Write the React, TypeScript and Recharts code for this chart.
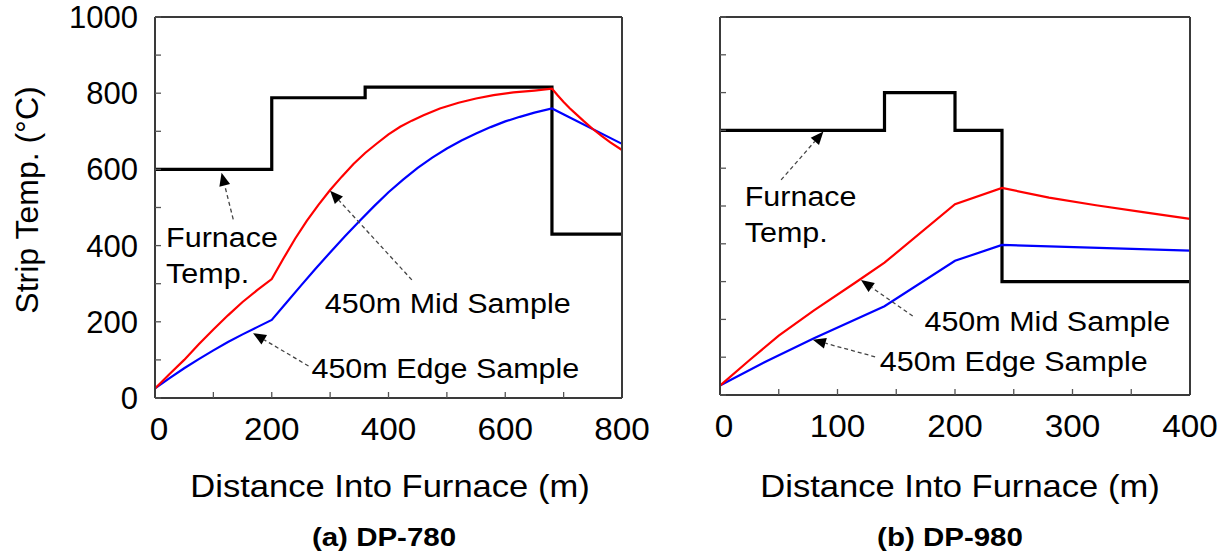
import React from 'react';
import { LineChart, Line, XAxis, YAxis, ReferenceLine, ReferenceDot } from 'recharts';

const FONT = 'Arial, "Liberation Sans", Helvetica, sans-serif';

// ---- (a) DP-780 ----
const furnaceA_x = [0, 200, 200, 360, 360, 680, 680, 800];
const furnaceA_t = [600, 600, 788, 788, 816, 816, 430, 430];
const midA_x = [0, 25, 50, 75, 100, 125, 150, 175, 200, 220, 240, 260, 280, 300, 320, 340, 360, 380, 400, 420, 440, 460, 488, 520, 550, 580, 614, 650, 680, 690, 700, 710, 720, 735, 750, 765, 780, 800];
const midA_t = [25, 63, 100, 141, 180, 217, 252, 283, 312, 366, 418, 465, 507, 546, 581, 614, 643, 668, 692, 712, 728, 742, 760, 775, 786, 795, 802, 807, 812, 794, 777, 761, 747, 726, 706, 688, 671, 651];
const edgeA_x = [0, 25, 50, 75, 100, 125, 150, 175, 200, 225, 250, 275, 300, 325, 350, 375, 400, 425, 450, 475, 500, 525, 550, 575, 600, 625, 650, 680, 800];
const edgeA_t = [25, 52, 78, 102, 125, 147, 167, 186, 205, 250, 295, 339, 382, 424, 464, 503, 540, 573, 604, 631, 655, 676, 694, 711, 726, 738, 749, 760, 667];
const ticksA_x = [0, 100, 200, 300, 400, 500, 600, 700, 800];

// ---- (b) DP-980 ----
const furnaceB_x = [0, 140, 140, 200, 200, 240, 240, 400];
const furnaceB_t = [700, 700, 800, 800, 700, 700, 300, 300];
const midB_x = [0, 25, 50, 80, 115, 140, 200, 240, 280, 320, 360, 400];
const midB_t = [25, 92, 157, 224, 297, 350, 505, 548, 522, 502, 484, 466];
const edgeB_x = [0, 40, 80, 140, 200, 240, 400];
const edgeB_t = [25, 90, 150, 235, 355, 397, 382];
const ticksB_x = [0, 50, 100, 150, 200, 250, 300, 350, 400];

const ticks_y = [0, 100, 200, 300, 400, 500, 600, 700, 800, 900, 1000];

// annotations (data coords: distance, temp)
const notes = [['Furnace', 'Temp.'], ['450m Mid Sample'], ['450m Edge Sample']];
const notesA_x = [19, 291, 268];
const notesA_t = [396, 222, 52];
const arrowsA_from = [[134, 469], [440, 310], [263, 84]];
const arrowsA_to = [[114, 591], [300, 544], [168, 170]];

const notesB_x = [21, 174, 136];
const notesB_t = [500, 168, 63];
const arrowsB_from = [[52, 569], [164, 209], [132, 101]];
const arrowsB_to = [[88, 697], [120, 304], [79, 146]];

const pts = (xs: number[], ts: number[]) => xs.map((x, i) => ({ x, t: ts[i] }));

const SText = ({ x, y, sx = 1, anchor = 'start', size, bold, children, lineGap = 36 }: any) => {
  const lines: string[] = Array.isArray(children) ? children : [children];
  return (
    <text
      transform={`translate(${x},${y}) scale(${sx},1)`}
      textAnchor={anchor}
      fontSize={size}
      fontFamily={FONT}
      fontWeight={bold ? 700 : 400}
      fill="#000"
    >
      {lines.map((l, i) => (
        <tspan key={i} x={0} dy={i === 0 ? 0 : lineGap}>
          {l}
        </tspan>
      ))}
    </text>
  );
};

const XTick = (props: any) => {
  const { x, y, payload, step } = props;
  if (payload.value % step !== 0) return null;
  return (
    <SText x={payload.value === 0 ? x + 4 : x} y={y + 48} anchor="middle" size={32} sx={1.04}>
      {String(payload.value)}
    </SText>
  );
};

const YTick = (props: any) => {
  const { x, y, payload } = props;
  if (payload.value % 200 !== 0) return null;
  return (
    <SText x={x - 23} y={y + 11} anchor="end" size={31}>
      {String(payload.value)}
    </SText>
  );
};

const NoTick = () => null;

const ArrowShape = (props: any) => {
  const { x1, y1, x2, y2 } = props;
  const dx = x2 - x1;
  const dy = y2 - y1;
  const len = Math.hypot(dx, dy) || 1;
  const ux = dx / len;
  const uy = dy / len;
  const bx = x2 - ux * 13;
  const by = y2 - uy * 13;
  const nx = -uy;
  const ny = ux;
  return (
    <g>
      <line x1={x1} y1={y1} x2={bx} y2={by} stroke="#444" strokeWidth={1.3} strokeDasharray="4 3" />
      <polygon
        points={`${x2},${y2} ${bx + nx * 5.5},${by + ny * 5.5} ${bx - nx * 5.5},${by - ny * 5.5}`}
        fill="#000"
      />
    </g>
  );
};

const AXIS = { stroke: '#3a3a3a', strokeWidth: 2 };
const TLINE = { stroke: '#555', strokeWidth: 1.3 };

const Panel = (p: any) => (
  <LineChart width={p.width} height={554} margin={{ top: 16, right: p.marginRight, left: 0, bottom: 0 }}>
    <XAxis
      xAxisId="b"
      dataKey="x"
      type="number"
      domain={[0, p.xMax]}
      ticks={p.xTicks}
      interval={0}
      height={p.xAxisHeight}
      tickSize={-6}
      tickMargin={0}
      tick={<XTick step={p.xStep} />}
      axisLine={AXIS}
      tickLine={TLINE}
    />
    <XAxis
      xAxisId="t"
      orientation="top"
      dataKey="x"
      type="number"
      domain={[0, p.xMax]}
      ticks={p.xTicks}
      interval={0}
      height={1}
      tickSize={-6}
      tickMargin={0}
      tick={<NoTick />}
      axisLine={AXIS}
      tickLine={TLINE}
    />
    <YAxis
      yAxisId="l"
      type="number"
      domain={[0, 1000]}
      ticks={ticks_y}
      interval={0}
      width={p.yAxisWidth}
      tickSize={-6}
      tickMargin={0}
      tick={p.yLabels ? <YTick /> : <NoTick />}
      axisLine={AXIS}
      tickLine={TLINE}
    />
    <YAxis
      yAxisId="r"
      orientation="right"
      type="number"
      domain={[0, 1000]}
      ticks={ticks_y}
      interval={0}
      width={1}
      tickSize={-6}
      tickMargin={0}
      tick={<NoTick />}
      axisLine={AXIS}
      tickLine={TLINE}
    />
    <Line xAxisId="b" yAxisId="l" data={p.furnace} dataKey="t" type="linear" stroke="#000" strokeWidth={3.2} dot={false} activeDot={false} isAnimationActive={false} />
    <Line xAxisId="b" yAxisId="l" data={p.edge} dataKey="t" type="linear" stroke="#0000ff" strokeWidth={2.2} dot={false} activeDot={false} isAnimationActive={false} />
    <Line xAxisId="b" yAxisId="l" data={p.mid} dataKey="t" type="linear" stroke="#ff0000" strokeWidth={2.2} dot={false} activeDot={false} isAnimationActive={false} />
    {p.arrowsFrom.map((f: number[], i: number) => (
      <ReferenceLine
        key={`a${i}`}
        xAxisId="b"
        yAxisId="l"
        segment={[{ x: f[0], y: f[1] }, { x: p.arrowsTo[i][0], y: p.arrowsTo[i][1] }]}
        shape={(sp: any) => <ArrowShape {...sp} />}
      />
    ))}
    {notes.map((n, i) => (
      <ReferenceDot
        key={`n${i}`}
        xAxisId="b"
        yAxisId="l"
        x={p.notesX[i]}
        y={p.notesT[i]}
        r={0}
        shape={(sp: any) => (
          <SText x={sp.cx} y={sp.cy} size={27} sx={1.13}>
            {n}
          </SText>
        )}
      />
    ))}
  </LineChart>
);

export default function App() {
  return (
    <div style={{ position: 'absolute', left: 0, top: 0, width: 1223, height: 554, background: '#fff' }}>
      <div style={{ position: 'absolute', left: 0, top: 0 }}>
        <Panel
          width={670}
          marginRight={47}
          yAxisWidth={155}
          xAxisHeight={156}
          xMax={800}
          xTicks={ticksA_x}
          xStep={200}
          yLabels
          furnace={pts(furnaceA_x, furnaceA_t)}
          mid={pts(midA_x, midA_t)}
          edge={pts(edgeA_x, edgeA_t)}
          notesX={notesA_x}
          notesT={notesA_t}
          arrowsFrom={arrowsA_from}
          arrowsTo={arrowsA_to}
        />
      </div>
      <div style={{ position: 'absolute', left: 640, top: 0 }}>
        <Panel
          width={583}
          marginRight={32}
          yAxisWidth={80}
          xAxisHeight={159}
          xMax={400}
          xTicks={ticksB_x}
          xStep={100}
          yLabels={false}
          furnace={pts(furnaceB_x, furnaceB_t)}
          mid={pts(midB_x, midB_t)}
          edge={pts(edgeB_x, edgeB_t)}
          notesX={notesB_x}
          notesT={notesB_t}
          arrowsFrom={arrowsB_from}
          arrowsTo={arrowsB_to}
        />
      </div>
      <svg width={1223} height={554} style={{ position: 'absolute', left: 0, top: 0, pointerEvents: 'none' }}>
        <text transform="translate(38,200) rotate(-90)" textAnchor="middle" fontSize={32} fontFamily={FONT} fill="#000">
          Strip Temp. (°C)
        </text>
        <SText x={390} y={497} anchor="middle" size={32} sx={1.08}>Distance Into Furnace (m)</SText>
        <SText x={960} y={497} anchor="middle" size={32} sx={1.08}>Distance Into Furnace (m)</SText>
        <SText x={384} y={546} anchor="middle" size={25} sx={1.18} bold>(a) DP-780</SText>
        <SText x={950} y={546} anchor="middle" size={25} sx={1.18} bold>(b) DP-980</SText>
      </svg>
    </div>
  );
}
